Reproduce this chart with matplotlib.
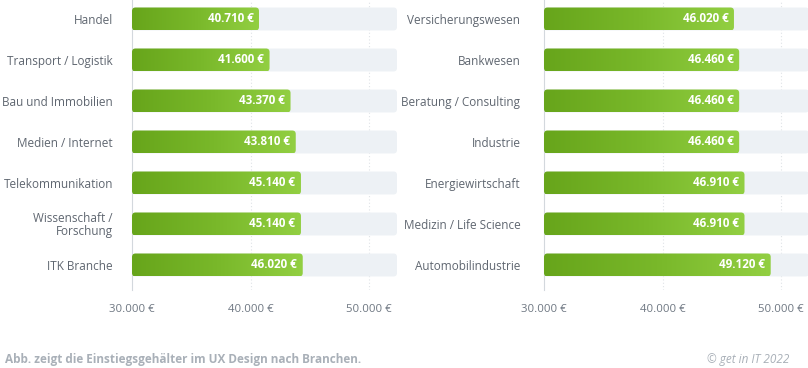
import numpy as np
import matplotlib
matplotlib.use("Agg")
import matplotlib.pyplot as plt
from matplotlib.patches import FancyBboxPatch
from matplotlib.colors import LinearSegmentedColormap

plt.rcParams['font.family'] = ['Open Sans', 'DejaVu Sans']

# data
left_labels = ["Handel", "Transport / Logistik", "Bau und Immobilien", "Medien / Internet",
               "Telekommunikation", "Wissenschaft /\nForschung", "ITK Branche"]
left_values = [40710, 41600, 43370, 43810, 45140, 45140, 46020]
# bar lengths as drawn in the original (lower bars are shorter than their labels say)
left_bars = [40710, 41600, 43370, 43810, 44250, 44250, 44400]
right_labels = ["Versicherungswesen", "Bankwesen", "Beratung / Consulting", "Industrie",
                "Energiewirtschaft", "Medizin / Life Science", "Automobilindustrie"]
right_values = [46020, 46460, 46460, 46460, 46910, 46910, 49120]
right_bars = right_values
ticks = [30000, 40000, 50000]
x_min, x_max = 30000, 52350

label_col = "#5f6670"
tick_col = "#6e7782"
bg_col = "#edf1f5"
green = LinearSegmentedColormap.from_list("g", ["#67a51b", "#79b82a", "#92cf42"])
grad = np.linspace(0, 1, 256).reshape(1, -1)


def fmt(v):
    return f"{v:,}".replace(",", ".") + " €"


def panel(ax, labels, values, bars, pad):
    h = 0.56
    # pixel -> data scale for rounding corners
    ux = (x_max - x_min) / 265.0
    uy = 1 / 41.0
    r = 3.5
    for i, (v, b) in enumerate(zip(values, bars)):
        bg = FancyBboxPatch((x_min, i - h / 2), x_max - x_min, h,
                            boxstyle=f"round,pad=0,rounding_size={r * ux}",
                            mutation_aspect=uy / ux, fc=bg_col, ec="none", zorder=1)
        ax.add_patch(bg)
        bar = FancyBboxPatch((x_min, i - h / 2), b - x_min, h,
                             boxstyle=f"round,pad=0,rounding_size={r * ux}",
                             mutation_aspect=uy / ux, fc="none", ec="none", zorder=2)
        ax.add_patch(bar)
        im = ax.imshow(grad, cmap=green, aspect="auto", zorder=2,
                       extent=[x_min, b, i + h / 2, i - h / 2])
        im.set_clip_path(bar)
        ax.text(b - 5.5 * ux, i, fmt(v), ha="right", va="center", color="white",
                fontsize=8.4, fontweight="bold", zorder=3)
    ax.set_xlim(x_min, x_max)
    ax.set_ylim(6 + 0.61, -0.463)
    ax.set_yticks(range(len(labels)))
    ax.set_yticklabels(labels, fontsize=8.5, color=label_col, linespacing=1.0)
    ax.tick_params(axis="y", length=0, pad=pad)
    ax.set_xticks(ticks)
    ax.set_xticklabels([fmt(t) for t in ticks], fontsize=8.2, color=tick_col)
    ax.tick_params(axis="x", length=0, pad=10)
    for t in ticks[1:]:
        ax.axvline(t, color="#dfe3e7", lw=0.8, ls=(0, (1, 2)), zorder=0)
    for s in ["top", "right", "bottom"]:
        ax.spines[s].set_visible(False)
    ax.spines["left"].set_color("#d3d8dd")
    ax.spines["left"].set_linewidth(0.8)
    ax.spines["left"].set_zorder(0)


fig = plt.figure(figsize=(8.08, 3.68), dpi=100)
ax1 = fig.add_axes([132 / 808, 78 / 368, 265 / 808, 290 / 368])
ax2 = fig.add_axes([544 / 808, 78 / 368, 265 / 808, 290 / 368])
panel(ax1, left_labels, left_values, left_bars, 13.7)
panel(ax2, right_labels, right_values, right_bars, 17)

fig.text(5 / 808, 1 - 359 / 368, "Abb. zeigt die Einstiegsgehälter im UX Design nach Branchen.",
         fontsize=8.5, fontweight="bold", color="#a9b0b8", va="center", ha="left")
fig.text(789 / 808, 1 - 359 / 368, "© get in IT 2022", fontsize=8.5, style="italic",
         color="#a9b0b8", va="center", ha="right")

fig.savefig("out.png", dpi=100)
